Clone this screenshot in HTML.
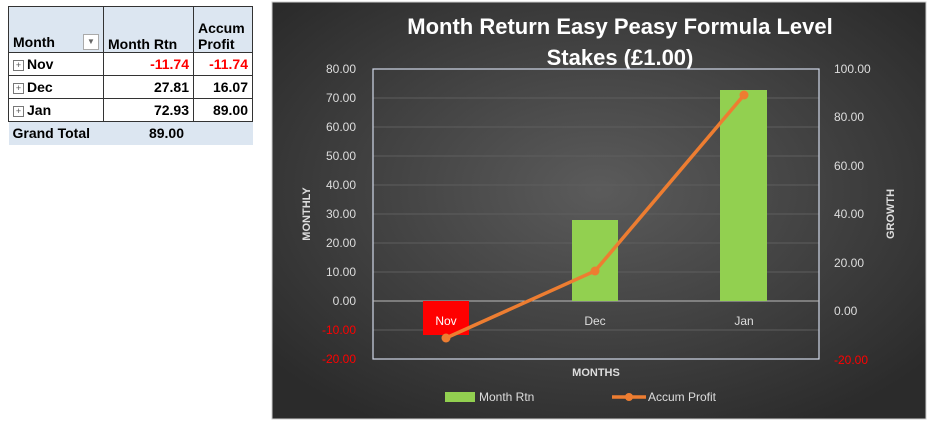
<!DOCTYPE html>
<html><head><meta charset="utf-8"><style>
body{margin:0;width:930px;height:422px;background:#fff;position:relative;overflow:hidden;font-family:"Liberation Sans",sans-serif}
table{position:absolute;left:8px;top:6px;border-collapse:collapse;font-weight:bold;font-size:14px}
td{padding:0 4px;box-sizing:border-box}
.h td{background:#dce6f1;height:46px;vertical-align:bottom;border:1px solid #333}
.r td{height:23px;border:1px solid #333;text-align:right}
.r td:first-child{text-align:left}
.g td{background:#dce6f1;height:23px}
.red{color:#f00}
.pl{display:inline-block;width:9px;height:9px;border:1px solid #777;font-size:9px;line-height:9px;text-align:center;color:#555;margin-right:3px;vertical-align:1px;font-weight:normal}
</style></head><body>
<table>
<tr class="h"><td style="width:95px">Month <span style="float:right;border:1px solid #aaa;width:14px;height:14px;font-size:8px;text-align:center;line-height:14px;color:#666;margin-bottom:2px;background:#fff">▼</span></td><td style="width:90px">Month Rtn</td><td style="width:59px">Accum Profit</td></tr>
<tr class="r"><td><span class="pl">+</span>Nov</td><td class="red">-11.74</td><td class="red">-11.74</td></tr>
<tr class="r"><td><span class="pl">+</span>Dec</td><td>27.81</td><td>16.07</td></tr>
<tr class="r"><td><span class="pl">+</span>Jan</td><td>72.93</td><td>89.00</td></tr>
<tr class="g"><td>Grand Total</td><td style="text-align:center;padding-left:40px">89.00</td><td></td></tr>
</table>
<svg width="930" height="422" style="position:absolute;left:0;top:0" font-family="Liberation Sans, sans-serif">
<defs><radialGradient id="bg" cx="50%" cy="45%" r="65%"><stop offset="0" stop-color="#5b5b5b"/><stop offset="1" stop-color="#2b2b2b"/></radialGradient></defs>
<rect x="272" y="2" width="654" height="417" fill="url(#bg)" stroke="#ccc"/>
<text x="620" y="34" fill="#fff" font-size="22" font-weight="bold" text-anchor="middle">Month Return Easy Peasy Formula Level</text>
<text x="620" y="65" fill="#fff" font-size="22" font-weight="bold" text-anchor="middle">Stakes (£1.00)</text>
<g stroke="#5e5e5e" stroke-width="1">
<line x1="373" x2="819" y1="98" y2="98"/><line x1="373" x2="819" y1="127" y2="127"/><line x1="373" x2="819" y1="156" y2="156"/><line x1="373" x2="819" y1="185" y2="185"/><line x1="373" x2="819" y1="214" y2="214"/><line x1="373" x2="819" y1="243" y2="243"/><line x1="373" x2="819" y1="272" y2="272"/><line x1="373" x2="819" y1="330" y2="330"/>
</g>
<rect x="373" y="69" width="446" height="290" fill="none" stroke="#d0d8e8" stroke-width="1.2"/>
<line x1="373" x2="819" y1="301" y2="301" stroke="#bbb"/>
<rect x="423" y="301" width="46" height="34" fill="#f00"/>
<rect x="572" y="220" width="46" height="81" fill="#92d050"/>
<rect x="720" y="90" width="47" height="211" fill="#92d050"/>
<g fill="#ddd" font-size="12" text-anchor="middle"><text x="446" y="325" fill="#fff">Nov</text><text x="595" y="325">Dec</text><text x="744" y="325">Jan</text></g>
<polyline points="446,338 595,271 744,95" fill="none" stroke="#ed7d31" stroke-width="3.5"/>
<g fill="#ed7d31"><circle cx="446" cy="338" r="4.5"/><circle cx="595" cy="271" r="4.5"/><circle cx="744" cy="95" r="4.5"/></g>
<g fill="#ddd" font-size="12" text-anchor="end">
<text x="356" y="73">80.00</text><text x="356" y="102">70.00</text><text x="356" y="131">60.00</text><text x="356" y="160">50.00</text><text x="356" y="189">40.00</text><text x="356" y="218">30.00</text><text x="356" y="247">20.00</text><text x="356" y="276">10.00</text><text x="356" y="305">0.00</text><text x="356" y="334" fill="#f00">-10.00</text><text x="356" y="363" fill="#f00">-20.00</text>
</g>
<g fill="#ddd" font-size="12">
<text x="834" y="73">100.00</text><text x="834" y="121">80.00</text><text x="834" y="170">60.00</text><text x="834" y="218">40.00</text><text x="834" y="267">20.00</text><text x="834" y="315">0.00</text><text x="834" y="364" fill="#f00">-20.00</text>
</g>
<text transform="translate(310,214) rotate(-90)" fill="#ddd" font-size="11" font-weight="bold" text-anchor="middle">MONTHLY</text>
<text transform="translate(894,214) rotate(-90)" fill="#ddd" font-size="11" font-weight="bold" text-anchor="middle">GROWTH</text>
<text x="596" y="376" fill="#ddd" font-size="11" font-weight="bold" text-anchor="middle">MONTHS</text>
<rect x="445" y="392" width="30" height="10" fill="#92d050"/>
<text x="479" y="401" fill="#ddd" font-size="12">Month Rtn</text>
<line x1="612" x2="646" y1="397" y2="397" stroke="#ed7d31" stroke-width="3.5"/><circle cx="629" cy="397" r="4" fill="#ed7d31"/>
<text x="648" y="401" fill="#ddd" font-size="12">Accum Profit</text>
</svg>
</body></html>
